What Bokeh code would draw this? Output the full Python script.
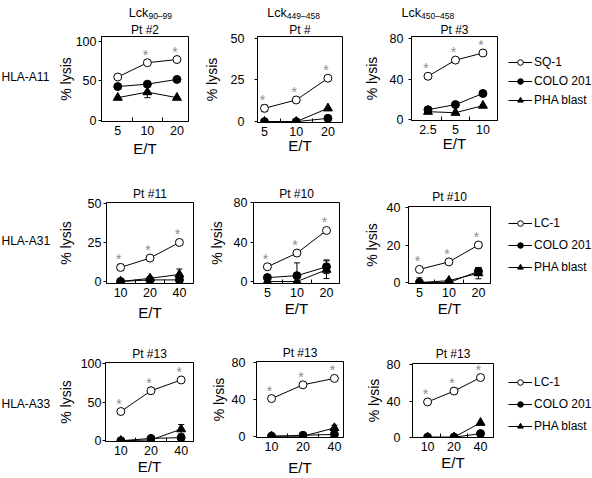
from bokeh.plotting import figure
from bokeh.models import (Range1d, FixedTicker, Legend, LegendItem,
                          Whisker, TeeHead, ColumnDataSource)
from bokeh.layouts import column, row
from bokeh.embed import file_html
from bokeh.resources import INLINE
from bokeh.core.properties import value

# ---------------- data ----------------
epitope_ranges = ["90–99", "449–458", "450–458"]
hla_types = ["HLA-A11", "HLA-A31", "HLA-A33"]
target_names = ["SQ-1", "LC-1", "LC-1"]
control_names = ["COLO 201", "PHA blast"]
patients = ["Pt #2", "Pt #", "Pt #3", "Pt #11", "Pt #10", "Pt #10",
            "Pt #13", "Pt #13", "Pt #13"]
et_ratios = [["5", "10", "20"], ["5", "10", "20"], ["2.5", "5", "10"],
             ["10", "20", "40"], ["5", "10", "20"], ["5", "10", "20"],
             ["10", "20", "40"], ["10", "20", "40"], ["10", "20", "40"]]
target_lysis = [[55, 73, 77], [8, 13, 26], [43, 59, 66],
                [9, 15, 25], [15, 29, 52], [7, 11, 20],
                [38, 65, 79], [41, 56, 63], [39, 51, 66]]
target_err = [[0, 1.5, 2], [2, 1.5, 1.5], [1.5, 1.5, 1.5],
              [2, 1, 1], [1.5, 1, 1.5], [0, 0, 0],
              [1.5, 1, 1], [1.5, 1.5, 1.5], [0, 0, 0]]
colo_lysis = [[43, 46, 52], [0, 0, 2], [10, 15, 26],
              [0, 1, 1], [4, 6, 15], [0, 0, 6],
              [0, 3, 4], [0, 1, 2], [0, 0, 4]]
colo_err = [[0, 0, 0], [0, 0, 0], [0, 0, 0],
            [0, 0, 0], [0, 13, 7], [0, 0, 2],
            [0, 0, 0], [0, 0, 0], [0, 0, 0]]
pha_lysis = [[29, 36, 29], [0, 0, 8], [8, 7, 14],
             [0, 2, 4.5], [0, 0, 12], [0, 1, 5],
             [0, 1, 15], [0, 0, 9], [0, 0, 16]]
pha_err = [[0, 7, 0], [0, 0, 0], [0, 0, 0],
           [0, 0, 3.5], [0, 0, 9], [2.5, 0, 3],
           [0, 0, 6], [0, 0, 3], [0, 0, 0]]
significant = [[0, 1, 1], [1, 1, 1], [1, 1, 1],
               [1, 1, 1], [1, 1, 1], [1, 1, 1],
               [1, 1, 1], [1, 1, 1], [1, 1, 1]]
y_ticks = [[0, 50, 100], [0, 25, 50], [0, 40, 80],
           [0, 25, 50], [0, 40, 80], [0, 20, 40],
           [0, 50, 100], [0, 40, 80], [0, 40, 80]]

# ---------------- layout / style (page pixel coordinates) ----------------
FONT = "Liberation Sans"
PAGE_W, PAGE_H = 592, 478
HEADER_H = 20
STRIP_W = 54
COL_X = [54, 200, 360]
COL_W = [146, 160, 145]
LEG_X, LEG_W = 505, 87
ROW_Y = [20, 166, 326]
ROW_H = [146, 160, 152]
FRAMES = [(97, 34, 188, 121), (255, 33, 342, 122), (408, 33, 497, 120),
          (100, 202, 193, 283), (253, 202, 339, 283), (408, 206, 490, 283),
          (101, 362, 193, 441), (256, 361, 343, 438), (412, 363, 493, 437)]
X_RANGES = [(-0.55, 2.39), (-0.22, 2.46), (-0.6, 2.53),
            (-0.48, 2.48), (-0.47, 2.44), (-0.37, 2.41),
            (-0.51, 2.41), (-0.48, 2.29), (-0.57, 2.49)]
Y_RANGES = [(-1, 106), (-0.5, 51), (-0.7, 82.3),
            (-1.3, 50.6), (-2, 80.5), (-0.5, 40.5),
            (-1, 101.7), (-1.4, 81.4), (-0.3, 81.5)]
TITLE_OFFSET = [3.5, -7, -6.7, -0.5, -7, -3, -0.3, -3.5, -5.5]
TITLE_STANDOFF = [0, 0, 0, 3, 3, 6, 3, 4, 6]
YTICK_STANDOFF = [2, 10, 5, 2, 3, 5, 1, 8, 9]
YLABEL_STANDOFF = [-1, 8, 7, 11, 6, 4, 4, 2, 2]
XLABEL_STANDOFF = [2, -2, -2, 4, 0, 0, 0, 5, 0]
HLA_Y = [76.7, 240, 403.3]
LCK_X = [128.3, 266.7, 401]
LCK_Y, SUB_Y = 12.8, 15.2
LEGEND_POS = [(3, 59, 5), (3, 52, 8), (3, 45, 8)]


def bare_figure(w, h, xr, yr):
    f = figure(width=w, height=h, output_backend="svg", toolbar_location=None,
               x_range=Range1d(*xr), y_range=Range1d(*yr),
               x_axis_type=None, y_axis_type=None, frame_align=False,
               min_border_left=0, min_border_right=0,
               min_border_top=0, min_border_bottom=0)
    f.outline_line_color = None
    f.xgrid.visible = False
    f.ygrid.visible = False
    f.background_fill_color = "white"
    f.border_fill_color = "white"
    return f


def whiskers(p, xs, ys, errs):
    b, u, lo = [], [], []
    for x, y, e in zip(xs, ys, errs):
        if e > 0:
            b.append(x)
            u.append(y + e)
            lo.append(max(y - e, 0))
    if not b:
        return
    src = ColumnDataSource(dict(base=b, upper=u, lower=lo))
    p.add_layout(Whisker(base="base", upper="upper", lower="lower", source=src,
                         dimension="height", line_color="black", line_width=1,
                         upper_head=TeeHead(size=6, line_color="black", line_width=1),
                         lower_head=TeeHead(size=6, line_color="black", line_width=1)))


def make_panel(i):
    r, c = divmod(i, 3)
    L, T, R, B = FRAMES[i]
    x0, w = COL_X[c], COL_W[c]
    y0, h = ROW_Y[r], ROW_H[r]
    p = figure(width=w, height=h, output_backend="svg", toolbar_location=None,
               x_range=Range1d(*X_RANGES[i]), y_range=Range1d(*Y_RANGES[i]),
               frame_align=False,
               min_border_left=L - x0, min_border_right=x0 + w - R,
               min_border_top=T - y0, min_border_bottom=y0 + h - B)
    p.background_fill_color = "white"
    p.border_fill_color = "white"
    p.outline_line_color = "black"
    p.outline_line_width = 1
    p.outline_line_alpha = 1
    p.xgrid.visible = False
    p.ygrid.visible = False

    p.title.text = patients[i]
    p.title.align = "center"
    p.title.offset = TITLE_OFFSET[i]
    p.title.standoff = TITLE_STANDOFF[i]
    p.title.text_font = FONT
    p.title.text_font_size = "12px"
    p.title.text_font_style = "normal"
    p.title.text_color = "black"

    et = et_ratios[i]
    xs = list(range(len(et)))

    xa = p.xaxis[0]
    xa.ticker = FixedTicker(ticks=xs, minor_ticks=[k + 0.5 for k in xs[:-1]])
    xa.major_label_overrides = {k: lab for k, lab in zip(xs, et)}
    xa.major_tick_in = 0
    xa.major_tick_out = 0
    xa.minor_tick_in = 4
    xa.minor_tick_out = 0
    xa.major_label_standoff = 4
    xa.axis_label = "E/T"
    xa.axis_label_text_font_size = "15px"
    xa.axis_label_standoff = XLABEL_STANDOFF[i]

    ya = p.yaxis[0]
    ya.ticker = FixedTicker(ticks=y_ticks[i], minor_ticks=[])
    ya.major_tick_in = 0
    ya.major_tick_out = 3
    ya.minor_tick_in = 0
    ya.minor_tick_out = 0
    ya.major_label_standoff = YTICK_STANDOFF[i]
    ya.axis_label = "% lysis"
    ya.axis_label_text_font_size = "14px"
    ya.axis_label_standoff = YLABEL_STANDOFF[i]

    for ax in (xa, ya):
        ax.axis_line_color = "black"
        ax.major_tick_line_color = "black"
        ax.minor_tick_line_color = "black"
        ax.major_label_text_font = FONT
        ax.major_label_text_font_size = "12.5px"
        ax.major_label_text_color = "black"
        ax.axis_label_text_font = FONT
        ax.axis_label_text_font_style = "normal"
        ax.axis_label_text_color = "black"

    p.line(xs, pha_lysis[i], line_color="black", line_width=1)
    p.scatter(xs, pha_lysis[i], marker="triangle", size=9,
              fill_color="black", line_color="black")
    p.line(xs, colo_lysis[i], line_color="black", line_width=1)
    p.scatter(xs, colo_lysis[i], marker="circle", size=8,
              fill_color="black", line_color="black")
    p.line(xs, target_lysis[i], line_color="black", line_width=1)
    p.scatter(xs, target_lysis[i], marker="circle", size=8,
              fill_color="white", line_color="black", line_width=1)
    whiskers(p, xs, pha_lysis[i], pha_err[i])
    whiskers(p, xs, colo_lysis[i], colo_err[i])
    whiskers(p, xs, target_lysis[i], target_err[i])

    sx = [x for x, s in zip(xs, significant[i]) if s]
    sy = [y for y, s in zip(target_lysis[i], significant[i]) if s]
    p.text(x=sx, y=sy, text=["*"] * len(sx), text_font=value(FONT),
           text_font_size="14px", text_color="#8c8c8c", text_align="center",
           text_baseline="middle", x_offset=-2, y_offset=-8)
    return p


def make_legend(r):
    h = ROW_H[r]
    f = bare_figure(LEG_W, h, (0, 1), (0, 1))
    # legend proxies: one point each, kept outside the visible range
    px, py = [-5], [-5]
    lt = f.line(px, py, line_color="black", line_width=1)
    st = f.scatter(px, py, marker="circle", size=6, fill_color="white",
                   line_color="black")
    lc = f.line(px, py, line_color="black", line_width=1)
    sc = f.scatter(px, py, marker="circle", size=6, fill_color="black",
                   line_color="black")
    lp = f.line(px, py, line_color="black", line_width=1)
    sp = f.scatter(px, py, marker="triangle", size=7, fill_color="black",
                   line_color="black")
    lx, ly, spacing = LEGEND_POS[r]
    legend = Legend(items=[LegendItem(label=target_names[r], renderers=[lt, st]),
                           LegendItem(label=control_names[0], renderers=[lc, sc]),
                           LegendItem(label=control_names[1], renderers=[lp, sp])],
                    location=(lx, ly), orientation="vertical",
                    glyph_width=24, glyph_height=14, label_height=14,
                    label_standoff=2, spacing=spacing, padding=0, margin=0,
                    border_line_color=None, background_fill_alpha=0,
                    label_text_font=FONT, label_text_font_size="12px",
                    label_text_baseline="middle", label_text_color="black")
    f.add_layout(legend)
    return f


# header with the epitope names (Lck + subscript range)
header = bare_figure(PAGE_W, HEADER_H, (0, PAGE_W), (HEADER_H, 0))
header.text(x=LCK_X, y=[LCK_Y] * 3, text=["Lck"] * 3, text_font=value(FONT),
            text_font_size="12.5px", text_color="black", text_align="left",
            text_baseline="middle")
header.text(x=[v + 19.6 for v in LCK_X], y=[SUB_Y] * 3, text=epitope_ranges,
            text_font=value(FONT), text_font_size="8.5px", text_color="black",
            text_align="left", text_baseline="middle")

# left strip with HLA types
strip_h = sum(ROW_H)
strip = bare_figure(STRIP_W, strip_h, (0, STRIP_W), (PAGE_H, HEADER_H))
strip.text(x=[1] * 3, y=HLA_Y, text=hla_types, text_font=value(FONT),
           text_font_size="12px", text_color="black", text_align="left",
           text_baseline="middle")

panels = [make_panel(i) for i in range(9)]
legends = [make_legend(r) for r in range(3)]
grid = column(row(*panels[0:3], legends[0]),
              row(*panels[3:6], legends[1]),
              row(*panels[6:9], legends[2]))
layout = column(header, row(strip, grid))

open("out.html", "w").write(file_html(layout, INLINE))
